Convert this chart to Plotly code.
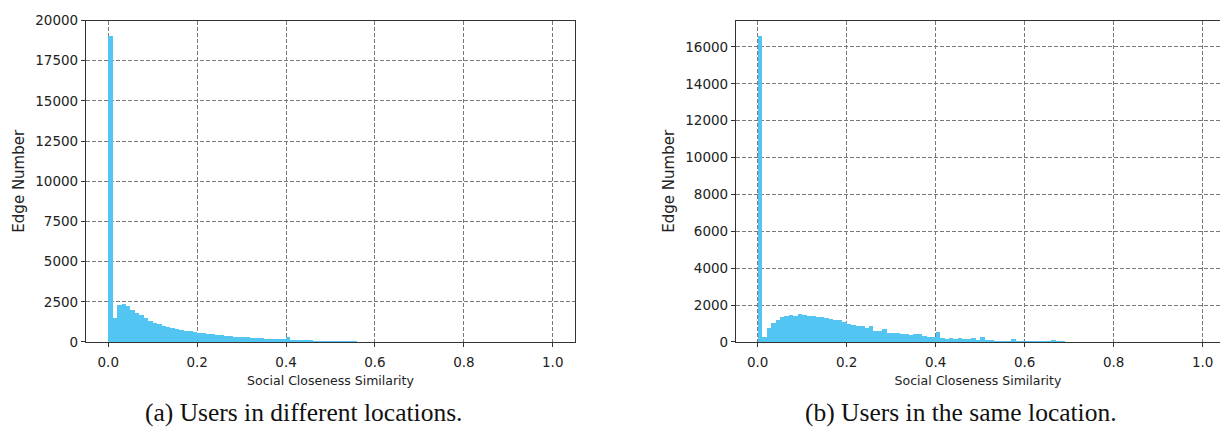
import numpy as np
import plotly.graph_objects as go

# Histogram bin edges (100 bins over [0, 1])
bin_width = 0.01
bin_left = np.round(np.arange(0, 1.0, bin_width), 2)

# (a) Users in different locations
counts_diff = [
    19050, 1550, 2350, 2380, 2250, 2050, 1850, 1700, 1500, 1350,
    1230, 1120, 1030, 950, 880, 830, 790, 740, 700, 650,
    610, 570, 540, 510, 480, 450, 420, 400, 370, 350,
    330, 310, 290, 270, 260, 240, 230, 215, 200, 190,
    320, 170, 160, 150, 140, 130, 120, 110, 100, 90,
    90, 110, 60, 50, 40, 30, 25, 20, 15, 10,
    8, 5, 4, 3, 2, 2, 1, 1, 0, 0,
    0, 0, 0, 0, 0, 0, 0, 0, 0, 0,
    0, 0, 0, 0, 0, 0, 0, 0, 0, 0,
    0, 0, 0, 0, 0, 0, 0, 0, 0, 0,
]

# (b) Users in the same location
counts_same = [
    16600, 300, 790, 1050, 1230, 1360, 1450, 1490, 1460, 1570,
    1480, 1440, 1420, 1400, 1360, 1320, 1280, 1230, 1200, 1120,
    1000, 930, 910, 880, 790, 875, 620, 610, 735, 540,
    520, 510, 450, 480, 430, 440, 470, 330, 320, 300,
    560, 220, 210, 220, 200, 260, 190, 200, 240, 150,
    310, 130, 110, 90, 95, 80, 100, 170, 80, 60,
    55, 50, 45, 40, 50, 60, 140, 35, 25, 15,
    10, 5, 3, 2, 1, 0, 0, 0, 0, 0,
    0, 0, 0, 0, 0, 0, 0, 0, 0, 0,
    0, 0, 0, 0, 0, 0, 0, 0, 0, 0,
]

x_ticks = [0.0, 0.2, 0.4, 0.6, 0.8, 1.0]
x_ticklabels = ["0.0", "0.2", "0.4", "0.6", "0.8", "1.0"]
y_ticks_a = [0, 2500, 5000, 7500, 10000, 12500, 15000, 17500, 20000]
y_ticklabels_a = ["0", "2500", "5000", "7500", "10000", "12500", "15000", "17500", "20000"]
y_ticks_b = [0, 2000, 4000, 6000, 8000, 10000, 12000, 14000, 16000]
y_ticklabels_b = ["0", "2000", "4000", "6000", "8000", "10000", "12000", "14000", "16000"]

x_title = "Social Closeness Similarity"
y_title = "Edge Number"
caption_a = "(a) Users in different locations."
caption_b = "(b) Users in the same location."

bar_color = "#52c5f2"
grid_color = "#7a7a7a"
tick_font = dict(family="DejaVu Sans", size=13.5, color="#222222")
xtitle_font = dict(family="DejaVu Sans", size=12.5, color="#222222")
ytitle_font = dict(family="DejaVu Sans", size=15, color="#222222")
caption_font = dict(family="Liberation Serif", size=25.5, color="#111111")

fig = go.Figure()
fig.add_trace(go.Bar(x=bin_left + bin_width / 2, y=counts_diff, width=bin_width,
                     marker=dict(color=bar_color, line=dict(width=0)),
                     xaxis="x", yaxis="y", showlegend=False))
fig.add_trace(go.Bar(x=bin_left + bin_width / 2, y=counts_same, width=bin_width,
                     marker=dict(color=bar_color, line=dict(width=0)),
                     xaxis="x2", yaxis="y2", showlegend=False))

W, H = 1220, 436
yd = [1 - 346.7 / H, 1 - 13 / H]

common_x = dict(
    tickvals=x_ticks, ticktext=x_ticklabels, showgrid=True, gridcolor=grid_color,
    griddash="4px,2px", gridwidth=1, showline=True, linecolor="#333333", linewidth=1.2,
    ticks="outside", ticklen=4, tickcolor="#333333", tickfont=tick_font,
    ticklabelstandoff=4,
    zeroline=False, title=dict(text=x_title, font=xtitle_font, standoff=6),
)
common_y = dict(
    showgrid=True, gridcolor=grid_color, griddash="4px,2px", gridwidth=1,
    showline=True, linecolor="#333333", linewidth=1.2, ticks="outside", ticklen=4,
    tickcolor="#333333", tickfont=tick_font, zeroline=False,
    title=dict(text=y_title, font=ytitle_font, standoff=6),
)

fig.update_layout(
    width=W, height=H, margin=dict(l=0, r=0, t=0, b=0),
    paper_bgcolor="white", plot_bgcolor="white", bargap=0,
    xaxis=dict(domain=[86 / W, 575 / W], range=[-0.05, 1.05], anchor="y", mirror=True, **common_x),
    yaxis=dict(domain=yd, range=[0, 20000], tickvals=y_ticks_a, ticktext=y_ticklabels_a,
               anchor="x", mirror=True, **common_y),
    xaxis2=dict(domain=[736 / W, 1.0], range=[-0.0488, 1.039], anchor="y2", mirror=True, **common_x),
    yaxis2=dict(domain=yd, range=[0, 17430], tickvals=y_ticks_b, ticktext=y_ticklabels_b,
                anchor="x2", mirror=False, **common_y),
    annotations=[
        dict(text=caption_a, x=303 / W, y=1 - 420 / H, xref="paper", yref="paper",
             showarrow=False, font=caption_font, xanchor="center", yanchor="middle"),
        dict(text=caption_b, x=961 / W, y=1 - 420 / H, xref="paper", yref="paper",
             showarrow=False, font=caption_font, xanchor="center", yanchor="middle"),
    ],
)

fig.write_html("out.html")
